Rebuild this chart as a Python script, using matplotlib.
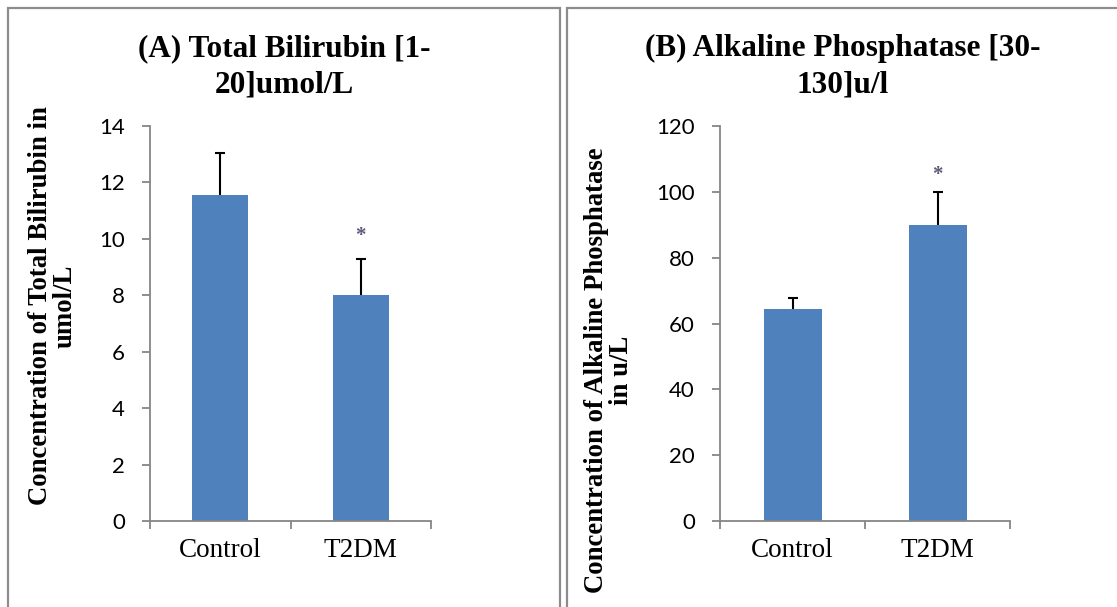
import matplotlib
matplotlib.use("Agg")
import matplotlib.pyplot as plt
from matplotlib.patches import Rectangle
from matplotlib.ticker import FixedLocator, NullFormatter

# Group labels and measured values (mean with upper error)
categories = ["Control", "T2DM"]

bilirubin_mean = [11.55, 8.0]
bilirubin_err = [1.48, 1.28]
bilirubin_ticks = [0, 2, 4, 6, 8, 10, 12, 14]

alp_mean = [64.3, 89.8]
alp_err = [3.3, 10.3]
alp_ticks = [0, 20, 40, 60, 80, 100, 120]

BAR_COLOR = "#4f81bd"
AXIS_COLOR = "#868686"
SERIF = "Liberation Serif"
SANS = "Lato"

W, H = 1117, 607
fig = plt.figure(figsize=(W / 100, H / 100), dpi=100)
fig.patch.set_facecolor("white")

# Panel frames
for x0, x1 in [(8, 560), (567, 1125)]:
    fig.patches.append(Rectangle((x0 / W, -0.05), (x1 - x0) / W, (H - 8) / H + 0.05,
                                 transform=fig.transFigure, fill=False,
                                 edgecolor="#8c8c8c", linewidth=1.6))


def draw_panel(left_px, width_px, means, errs, ticks, title, ylabel,
               title_x, ylabel_x, ylabel_y, star_offset):
    ax = fig.add_axes([left_px / W, (H - 521) / H, width_px / W, 395 / H])
    x = list(range(len(categories)))
    # error bars sit behind the bars so only the upper half shows
    ax.errorbar(x, means, yerr=errs, fmt="none",
                ecolor="black", elinewidth=1.5, capsize=3.5, capthick=1.5, zorder=1)
    ax.bar(x, means, width=0.4, color=BAR_COLOR, zorder=2)
    ax.set_xlim(-0.5, len(categories) - 0.5)
    ax.set_ylim(ticks[0], ticks[-1])
    ax.set_yticks(ticks)
    ax.set_yticklabels([str(t) for t in ticks], fontfamily=SANS, fontsize=16)
    ax.set_xticks(x)
    ax.set_xticklabels(categories, fontfamily=SERIF, fontsize=19.5)
    ax.tick_params(axis="x", which="major", length=0, pad=12)
    ax.xaxis.set_minor_locator(FixedLocator([i - 0.5 for i in range(len(categories) + 1)]))
    ax.xaxis.set_minor_formatter(NullFormatter())
    ax.tick_params(axis="x", which="minor", length=6, width=1.3, color=AXIS_COLOR)
    ax.tick_params(axis="y", length=6, width=1.3, color=AXIS_COLOR, pad=12)
    for side in ("top", "right"):
        ax.spines[side].set_visible(False)
    for side in ("left", "bottom"):
        ax.spines[side].set_color(AXIS_COLOR)
        ax.spines[side].set_linewidth(1.3)
    # significance marker above the T2DM bar
    ax.annotate("*", (1, means[1] + errs[1]), xytext=(0, star_offset),
                textcoords="offset points", ha="center", va="center",
                fontsize=15, fontweight="bold", color="#5a5a78", fontfamily=SERIF)
    fig.text(title_x / W, (H - 67) / H, title, ha="center", va="center",
             fontfamily=SERIF, fontweight="bold", fontsize=22.5, linespacing=1.35)
    fig.text(ylabel_x / W, (H - ylabel_y) / H, ylabel, ha="center", va="center",
             rotation=90, multialignment="center",
             fontfamily=SERIF, fontweight="bold", fontsize=19.3, linespacing=0.95)
    return ax


draw_panel(150, 281, bilirubin_mean, bilirubin_err, bilirubin_ticks,
           "(A) Total Bilirubin [1-\n20]umol/L",
           "Concentration of Total Bilirubin in\numol/L", 284, 53, 306, 17)
draw_panel(720, 290, alp_mean, alp_err, alp_ticks,
           "(B) Alkaline Phosphatase [30-\n130]u/l",
           "Concentration of Alkaline Phosphatase\nin u/L", 843, 609, 370, 12)

fig.savefig("out.png", dpi=100, facecolor="white")
